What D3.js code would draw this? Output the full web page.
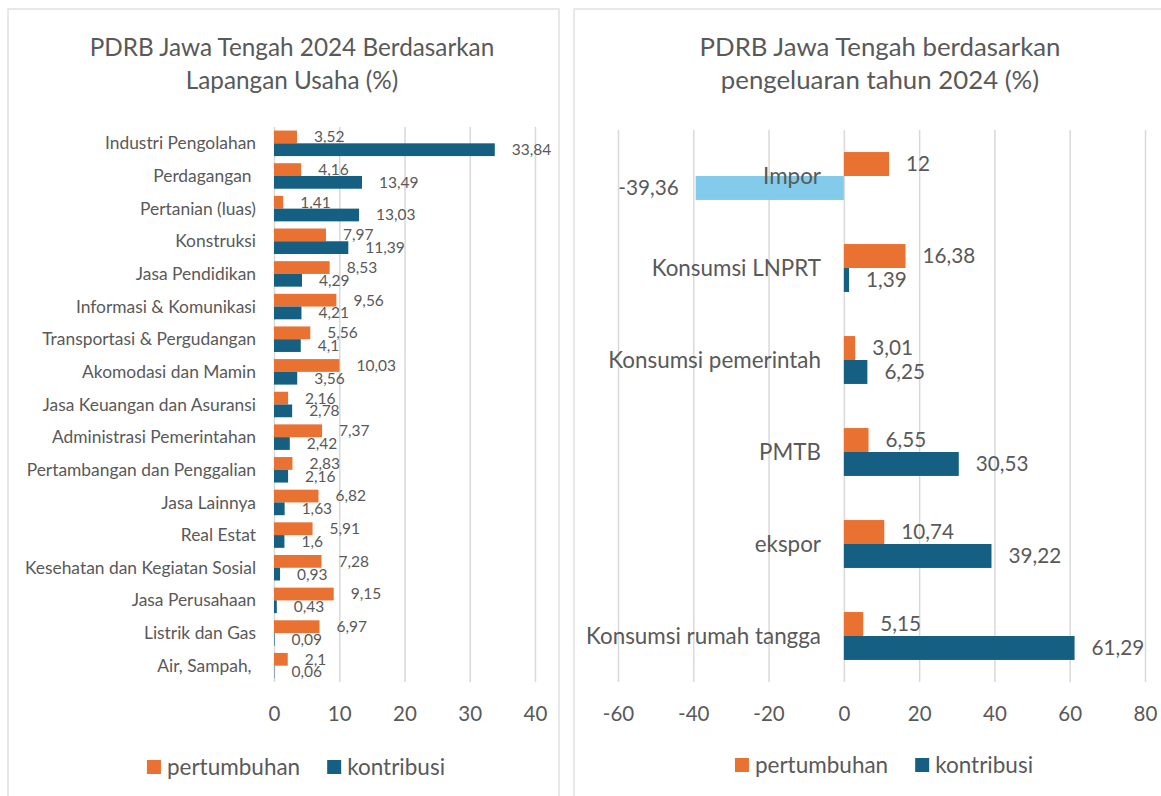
<!DOCTYPE html>
<html>
<head>
<meta charset="utf-8">
<script src="https://cdn.jsdelivr.net/npm/d3@7"></script>
<style>
  body { margin: 0; background: #fff; }
  svg text { font-family: Lato, "Open Sans", sans-serif; fill: #595959; white-space: pre; }
</style>
</head>
<body>
<svg id="chart" width="1161" height="796"></svg>
<script>
// left chart: lapangan usaha
const leftCategories = ["Industri Pengolahan", "Perdagangan ", "Pertanian (luas)", "Konstruksi", "Jasa Pendidikan",
  "Informasi & Komunikasi", "Transportasi & Pergudangan", "Akomodasi dan Mamin", "Jasa Keuangan dan Asuransi",
  "Administrasi Pemerintahan", "Pertambangan dan Penggalian", "Jasa Lainnya", "Real Estat",
  "Kesehatan dan Kegiatan Sosial", "Jasa Perusahaan", "Listrik dan Gas", "Air, Sampah, "];
const leftPertumbuhan = [3.52, 4.16, 1.41, 7.97, 8.53, 9.56, 5.56, 10.03, 2.16, 7.37, 2.83, 6.82, 5.91, 7.28, 9.15, 6.97, 2.1];
const leftKontribusi = [33.84, 13.49, 13.03, 11.39, 4.29, 4.21, 4.1, 3.56, 2.78, 2.42, 2.16, 1.63, 1.6, 0.93, 0.43, 0.09, 0.06];
const leftTicks = [0, 10, 20, 30, 40];

// right chart: pengeluaran
const rightCategories = ["Impor", "Konsumsi LNPRT", "Konsumsi pemerintah", "PMTB", "ekspor", "Konsumsi rumah tangga"];
const rightPertumbuhan = [12, 16.38, 3.01, 6.55, 10.74, 5.15];
const rightKontribusi = [-39.36, 1.39, 6.25, 30.53, 39.22, 61.29];
const rightTicks = [-60, -40, -20, 0, 20, 40, 60, 80];

const seriesNames = ["pertumbuhan", "kontribusi"];
const colors = { pertumbuhan: "#E97132", kontribusi: "#156082", negative: "#83CBEB" };

const svg = d3.select("#chart");
const fmt = v => String(v).replace(".", ",");

const drawPanel = (opt) => {
  const g = svg.append("g");

  g.append("rect")
    .attr("x", opt.frame[0]).attr("y", opt.frame[1])
    .attr("width", opt.frame[2]).attr("height", opt.frame[3])
    .attr("fill", "#fff").attr("stroke", "#d9d9d9").attr("stroke-width", 1.2);

  opt.title.forEach((line, i) => {
    g.append("text")
      .text(line)
      .attr("x", opt.titleX)
      .attr("y", opt.titleY[i])
      .attr("dy", "0.35em")
      .attr("text-anchor", "middle")
      .attr("font-size", opt.titleSize);
  });

  const x = d3.scaleLinear().domain(opt.domain).range(opt.xRange);
  const y = d3.scaleBand().domain(opt.categories).range(opt.yRange);
  const y1 = d3.scaleBand().domain(seriesNames).range([0, y.bandwidth()]).paddingOuter(opt.outer);

  const axis = g.append("g")
    .attr("transform", `translate(0,${opt.yRange[1]})`)
    .call(d3.axisBottom(x)
      .tickValues(opt.ticks)
      .tickFormat(d => String(d))
      .tickSizeInner(-(opt.yRange[1] - opt.yRange[0]))
      .tickSizeOuter(0));
  axis.select(".domain").remove();
  axis.selectAll(".tick line").attr("stroke", "#d9d9d9").attr("stroke-width", 1.5);
  axis.selectAll(".tick text")
    .attr("y", 32).attr("dy", "0.35em")
    .attr("font-size", 20.5)
    .attr("font-family", "Lato, 'Open Sans', sans-serif")
    .attr("fill", "#595959");

  const rows = opt.categories.map((c, i) => ({ c, pertumbuhan: opt.pertumbuhan[i], kontribusi: opt.kontribusi[i] }));
  const flat = rows.flatMap(r => seriesNames.map(s => ({ c: r.c, s, v: r[s] })));

  g.append("g").selectAll("rect")
    .data(flat)
    .enter()
    .append("rect")
    .attr("x", d => x(Math.min(0, d.v)))
    .attr("y", d => y(d.c) + y1(d.s))
    .attr("width", d => Math.abs(x(d.v) - x(0)))
    .attr("height", y1.bandwidth())
    .attr("fill", d => d.v < 0 ? colors.negative : colors[d.s]);

  g.append("g").selectAll("text")
    .data(opt.categories)
    .enter()
    .append("text")
    .text(d => d)
    .attr("x", opt.labelX)
    .attr("y", d => y(d) + y.bandwidth() / 2)
    .attr("dy", "0.35em")
    .attr("text-anchor", "end")
    .attr("font-size", opt.catSize);

  g.append("g").selectAll("text")
    .data(flat)
    .enter()
    .append("text")
    .text(d => fmt(d.v))
    .attr("x", d => d.v < 0 ? x(d.v) - 17 : x(d.v) + 17)
    .attr("y", d => y(d.c) + y1(d.s) + y1.bandwidth() / 2)
    .attr("dy", "0.35em")
    .attr("text-anchor", d => d.v < 0 ? "end" : "start")
    .attr("font-size", opt.valueSize);

  // legend, centred under the plot
  const legend = g.append("g");
  let cx = 0;
  seriesNames.forEach(s => {
    legend.append("rect")
      .attr("x", cx).attr("y", opt.legendY - 7)
      .attr("width", 14).attr("height", 14)
      .attr("fill", colors[s]);
    const t = legend.append("text")
      .text(s)
      .attr("x", cx + 20)
      .attr("y", opt.legendY)
      .attr("dy", "0.35em")
      .attr("font-size", 22.5);
    cx += 20 + t.node().getComputedTextLength() + 27;
  });
  const w = cx - 27;
  legend.attr("transform", `translate(${opt.legendX - w / 2},0)`);
};

drawPanel({
  frame: [8, 9, 551, 800],
  title: ["PDRB Jawa Tengah 2024 Berdasarkan", "Lapangan Usaha (%)"],
  titleX: 292, titleY: [47, 80], titleSize: 24.3,
  categories: leftCategories,
  pertumbuhan: leftPertumbuhan,
  kontribusi: leftKontribusi,
  domain: [0, 40], xRange: [274, 535], yRange: [127, 682],
  ticks: leftTicks,
  outer: 0.28,
  labelX: 256, catSize: 17.4, valueSize: 15.5,
  legendX: 296, legendY: 767
});

drawPanel({
  frame: [574, 9, 600, 800],
  title: ["PDRB Jawa Tengah berdasarkan", "pengeluaran tahun 2024 (%)"],
  titleX: 880, titleY: [47, 80], titleSize: 25.8,
  categories: rightCategories,
  pertumbuhan: rightPertumbuhan,
  kontribusi: rightKontribusi,
  domain: [-60, 80], xRange: [618, 1145], yRange: [130, 682],
  ticks: rightTicks,
  outer: 0.92,
  labelX: 821, catSize: 22.4, valueSize: 20.7,
  legendX: 884, legendY: 765
});
</script>
</body>
</html>
